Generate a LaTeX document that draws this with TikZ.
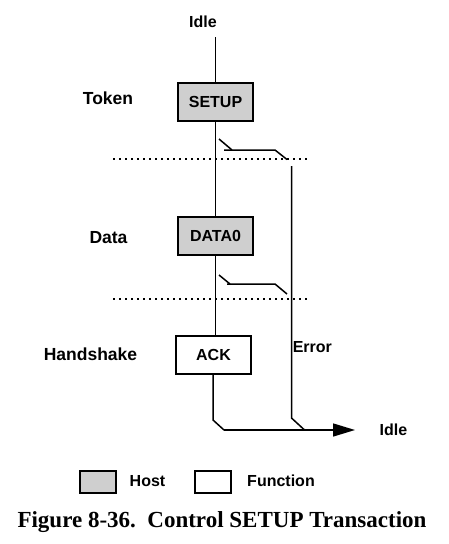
\documentclass[tikz,border=0pt]{standalone}
\usepackage{fontspec}
\setmainfont{Liberation Serif}
\setsansfont{Liberation Sans}
\usetikzlibrary{arrows.meta}
\definecolor{hostgray}{gray}{0.81}

\begin{document}
\begin{tikzpicture}[x=1pt,y=-1pt,line width=1.5pt,
  host/.style={draw,fill=hostgray,minimum width=75pt,minimum height=38pt,inner sep=0pt,font=\sffamily\bfseries\fontsize{16}{18}\selectfont},
  func/.style={host,fill=white},
  lbl/.style={font=\sffamily\bfseries\fontsize{16}{18}\selectfont,inner sep=0pt},
  side/.style={font=\sffamily\bfseries\fontsize{17.5}{20}\selectfont,inner sep=0pt},
  sep/.style={line width=1.3pt,dash pattern=on 1.5pt off 4.5pt}]
\useasboundingbox (0,0) rectangle (448,544);
\node[lbl] at (203,22) (idletop) {Idle};
\node[host] at (215.5,102) (setup) {SETUP};
\node[host] at (215.5,236) (data) {DATA0};
\node[func] at (213.5,355) (ack) {ACK};
\node[side] at (108,98) (token) {Token};
\node[side] at (108.5,238) (datalbl) {Data};
\node[side] at (90.5,354.5) (hs) {Handshake};
\node[lbl,anchor=west] at (292,347) (err) {Error};
\node[lbl] at (393.5,430) (idlebot) {Idle};
\coordinate (start) at (215.5,37);
\coordinate (dotl1) at (113,159);
\coordinate (dotr1) at (308,159);
\coordinate (dotl2) at (113,299);
\coordinate (dotr2) at (308,299);
\coordinate (b1a) at (219,139);
\coordinate (b1b) at (232,150);
\coordinate (b1c) at (224,150);
\coordinate (b1d) at (275,150);
\coordinate (b1e) at (287,159.5);
\coordinate (b2a) at (219,275);
\coordinate (b2b) at (230,284);
\coordinate (b2c) at (227,284);
\coordinate (b2d) at (275,284);
\coordinate (b2e) at (287,294);
\coordinate (e1) at (291.5,166);
\coordinate (e2) at (291.5,418);
\coordinate (e3) at (304,429.5);
\coordinate (a1) at (213,420);
\coordinate (a2) at (224,430);
\coordinate (a3) at (355,430);
\draw (start) -- (setup.north);
\draw (setup.south) -- (data.north);
\draw (data.south) -- (data.south |- ack.north);
\draw[sep] (dotl1) -- (dotr1);
\draw[sep] (dotl2) -- (dotr2);
\draw (b1a) -- (b1b);
\draw (b1c) -- (b1d) -- (b1e);
\draw (b2a) -- (b2b);
\draw (b2c) -- (b2d) -- (b2e);
\draw (e1) -- (e2) -- (e3);
\draw (ack.south -| a1) -- (a1) -- (a2);
\draw[-{Triangle[length=22pt,width=13pt]}] (a2) -- (a3);
\node[host,minimum width=36pt,minimum height=22pt] at (98,482) (hostkey) {};
\node[lbl] at (147.5,481) (hosttxt) {Host};
\node[func,minimum width=36pt,minimum height=22pt] at (213,482) (funckey) {};
\node[lbl] at (281,481) (functxt) {Function};
\node[font=\bfseries\fontsize{23}{26}\selectfont] at (222,522) (cap) {Figure 8-36.\ \ Control SETUP Transaction};
\end{tikzpicture}
\end{document}
